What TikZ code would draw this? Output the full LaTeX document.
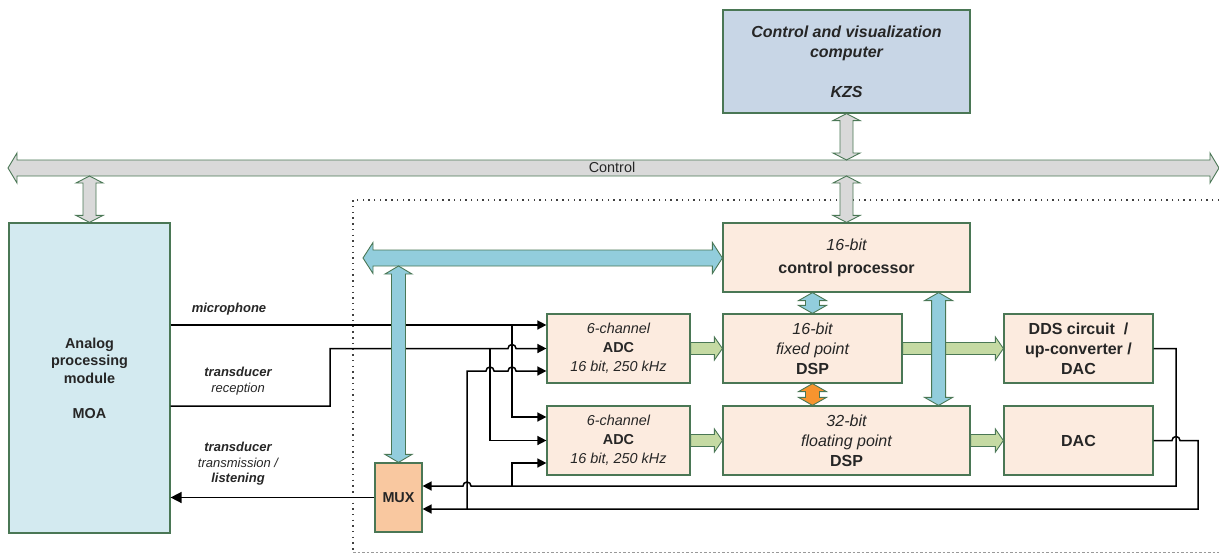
\documentclass[tikz,border=0pt]{standalone}
\usepackage{fontspec}
\setmainfont{Liberation Sans}
\usetikzlibrary{arrows.meta,calc}
\definecolor{bordergreen}{HTML}{4A7755}
\definecolor{txt}{HTML}{262626}
\definecolor{busgray}{HTML}{D9D9D9}
\definecolor{kzsfill}{HTML}{C8D6E6}
\definecolor{moafill}{HTML}{D3EAF0}
\definecolor{boxfill}{HTML}{FCEBDF}
\definecolor{muxfill}{HTML}{F9C8A0}
\definecolor{bluearr}{HTML}{92CDDC}
\definecolor{greenarr}{HTML}{C5DAA3}
\definecolor{orangearr}{HTML}{F7942E}
\newcommand\fbig{\fontsize{16}{20}\selectfont}
\newcommand\fmid{\fontsize{14.4}{19}\selectfont}
\newcommand\fmoa{\fontsize{14.4}{17.5}\selectfont}
\newcommand\fsm{\fontsize{13}{15.5}\selectfont}
% vertical double fat arrow: #1 style, #2 top, #3 bottom, #4 shaft half, #5 head half, #6 head length
\newcommand\vdarrow[6]{\draw[#1] let \p1=#2, \p2=#3 in
  (\x1,\y1) -- (\x1+#5,\y1-#6) -- (\x1+#4,\y1-#6) -- (\x1+#4,\y2+#6) -- (\x1+#5,\y2+#6) -- (\x1,\y2)
  -- (\x1-#5,\y2+#6) -- (\x1-#4,\y2+#6) -- (\x1-#4,\y1-#6) -- (\x1-#5,\y1-#6) -- cycle;}
% horizontal double fat arrow: #2 left, #3 right
\newcommand\hdarrow[6]{\draw[#1] let \p1=#2, \p2=#3 in
  (\x1,\y1) -- (\x1+#6,\y1+#5) -- (\x1+#6,\y1+#4) -- (\x2-#6,\y1+#4) -- (\x2-#6,\y1+#5) -- (\x2,\y1)
  -- (\x2-#6,\y1-#5) -- (\x2-#6,\y1-#4) -- (\x1+#6,\y1-#4) -- (\x1+#6,\y1-#5) -- cycle;}
% horizontal single fat arrow (to the right)
\newcommand\hsarrow[6]{\draw[#1] let \p1=#2, \p2=#3 in
  (\x1,\y1+#4) -- (\x2-#6,\y1+#4) -- (\x2-#6,\y1+#5) -- (\x2,\y1)
  -- (\x2-#6,\y1-#5) -- (\x2-#6,\y1-#4) -- (\x1,\y1-#4) -- cycle;}
\begin{document}
\begin{tikzpicture}[x=1pt,y=-1pt,
  box/.style={draw=bordergreen, line width=1.2pt, align=center, inner sep=0pt, text=txt},
  fat/.style={draw=bordergreen, line width=0.9pt, line join=miter},
  wire/.style={draw=black, line width=1.5pt},
  tip/.style={-{Triangle[length=9pt,width=9pt]}},
  lbl/.style={align=center, text=txt, inner sep=0pt, font=\fsm}]
\useasboundingbox (0,0) rectangle (1219,554);

% dotted region
\draw[black!75, line width=1.4pt, dash pattern=on 1.4pt off 4.3pt] (1219,200) -- (353,200) -- (353,552.5);
\draw[black!40, line width=1pt, dash pattern=on 2.5pt off 2pt] (353,552.5) -- (1219,552.5);

% boxes
\node[box, fill=kzsfill, minimum width=247pt, minimum height=103pt, font=\fbig\bfseries\itshape] (kzs) at (846.5,61.5)
  {Control and visualization\\ computer\\[20pt] KZS};
\node[box, fill=moafill, minimum width=161pt, minimum height=310pt, font=\fmoa\bfseries] (moa) at (89.5,378)
  {Analog\\ processing\\ module\\[17.5pt] MOA};
\node[box, fill=boxfill, minimum width=247pt, minimum height=69pt, font=\fbig] (cp) at (846.5,257.5)
  {\itshape 16-bit\\[3pt] \bfseries control processor};
\node[box, fill=boxfill, minimum width=143pt, minimum height=69pt, font=\fmid] (adc1) at (618.5,348.5)
  {\itshape 6-channel\\ \bfseries ADC\\ \itshape 16 bit, 250 kHz};
\node[box, fill=boxfill, minimum width=143pt, minimum height=69pt, font=\fmid] (adc2) at (618.5,440.5)
  {\itshape 6-channel\\ \bfseries ADC\\ \itshape 16 bit, 250 kHz};
\node[box, fill=boxfill, minimum width=179pt, minimum height=69pt, font=\fbig] (dsp16) at (812.5,348.5)
  {\itshape 16-bit\\ \itshape fixed point\\ \bfseries DSP};
\node[box, fill=boxfill, minimum width=247pt, minimum height=69pt, font=\fbig] (dsp32) at (846.5,440.5)
  {\itshape 32-bit\\ \itshape floating point\\ \bfseries DSP};
\node[box, fill=boxfill, minimum width=149pt, minimum height=69pt, font=\fbig\bfseries] (dds) at (1078.5,348.5)
  {DDS circuit\ \ /\\ up-converter /\\ DAC};
\node[box, fill=boxfill, minimum width=149pt, minimum height=69pt, font=\fbig\bfseries] (dac) at (1078.5,440.5)
  {DAC};
\node[box, fill=muxfill, minimum width=47pt, minimum height=69pt, font=\fmid\bfseries] (mux) at (398.5,497.5)
  {MUX};

% helper coordinates
\coordinate (busL) at (8,168);
\coordinate (busR) at (1219,168);
\coordinate (busT) at (0,160);
\coordinate (busB) at (0,176);
\coordinate (cbusL) at (363,258);
\coordinate (cbusB) at (0,266);
\coordinate (cpd) at ($(cp.south east)+(-32,0)$);
\coordinate (a1i1) at ([yshift=23.5pt]adc1.west);
\coordinate (a1i2) at (adc1.west);
\coordinate (a1i3) at ([yshift=-22.5pt]adc1.west);
\coordinate (a2i1) at ([yshift=23.5pt]adc2.west);
\coordinate (a2i2) at (adc2.west);
\coordinate (a2i3) at ([yshift=-22.5pt]adc2.west);
\coordinate (mi1) at ([yshift=11.5pt]mux.east);
\coordinate (mi2) at ([yshift=-11.5pt]mux.east);
\coordinate (moaRec) at ([yshift=-28pt]moa.east);
\coordinate (xr) at (330,0);
\coordinate (xa) at (467,0);
\coordinate (xb) at (490,0);
\coordinate (xc) at (512,0);
\coordinate (xd) at (1176,0);
\coordinate (xe) at (1198,0);

% wires
\draw[wire,tip] (moa.east |- a1i1) -- (a1i1);
\draw[wire,tip] (xc |- a1i1) -- (xc |- a2i1) -- (a2i1);
\draw[wire,tip] (moaRec) -- (xr |- moaRec) -- (xr |- a1i2) -- ([xshift=-4pt]xc |- a1i2)
  arc[start angle=180,end angle=0,radius=4pt] -- (a1i2);
\draw[wire,tip] (xb |- a1i2) -- (xb |- a2i2) -- (a2i2);
% DDS loop
\draw[wire,tip] (dds.east) -- (xd |- dds.east) -- (xd |- mi1) -- ([xshift=4pt]xa |- mi1)
  arc[start angle=0,end angle=180,radius=4pt] -- (mi1);
\draw[wire,tip] (xc |- mi1) -- (xc |- a2i3) -- (a2i3);
% DAC loop
\draw[wire,tip] (dac.east) -- ([xshift=-4pt]xd |- dac.east) arc[start angle=180,end angle=0,radius=4pt]
  -- (xe |- dac.east) -- (xe |- mi2) -- (mi2);
\draw[wire,tip] (xa |- mi2) -- (xa |- a1i3) -- ([xshift=-4pt]xb |- a1i3)
  arc[start angle=180,end angle=0,radius=4pt] -- ([xshift=-4pt]xc |- a1i3)
  arc[start angle=180,end angle=0,radius=4pt] -- (a1i3);
% MUX output
\draw[wire,-{Triangle[length=11pt,width=11pt]}] (mux.west) -- (moa.east |- mux.west);

% fat arrows
\hdarrow{fat,fill=busgray}{(busL)}{(busR)}{8pt}{15pt}{9pt}
\node[lbl, font=\fmid] (ctl) at (612,167.5) {Control};
\vdarrow{fat,fill=busgray}{(kzs.south)}{(kzs.south |- busT)}{6.5pt}{13.5pt}{7pt}
\vdarrow{fat,fill=busgray}{(cp.north |- busB)}{(cp.north)}{6.5pt}{13.5pt}{7pt}
\vdarrow{fat,fill=busgray}{(moa.north |- busB)}{(moa.north)}{6.5pt}{13.5pt}{7pt}
\hdarrow{fat,fill=bluearr}{(cbusL)}{(cp.west)}{8pt}{15.5pt}{10pt}
\vdarrow{fat,fill=bluearr}{(mux.north |- cbusB)}{(mux.north)}{7pt}{13.5pt}{8pt}
\vdarrow{fat,fill=bluearr}{(dsp16.north |- cp.south)}{(dsp16.north)}{7pt}{14pt}{8pt}
\vdarrow{fat,fill=orangearr}{(dsp16.south)}{(dsp16.south |- dsp32.north)}{7pt}{14pt}{8pt}
\hsarrow{fat,fill=greenarr}{(adc1.east)}{(dsp16.west)}{6pt}{11.5pt}{8pt}
\hsarrow{fat,fill=greenarr}{(adc2.east)}{(dsp32.west)}{6pt}{11.5pt}{8pt}
\hsarrow{fat,fill=greenarr}{(dsp16.east)}{(dds.west)}{6pt}{11.5pt}{8pt}
\hsarrow{fat,fill=greenarr}{(dsp32.east)}{(dac.west)}{6pt}{11.5pt}{8pt}
\vdarrow{fat,fill=bluearr}{(cpd)}{(cpd |- dsp32.north)}{7pt}{14pt}{8pt}

% labels
\node[lbl] (lmic) at (229,309) {\bfseries\itshape microphone};
\node[lbl] (lrec) at (238,381) {\bfseries\itshape transducer\\ \itshape reception};
\node[lbl] (ltx) at (238,464) {\bfseries\itshape transducer\\ \itshape transmission /\\ \bfseries\itshape listening};
\end{tikzpicture}
\end{document}
